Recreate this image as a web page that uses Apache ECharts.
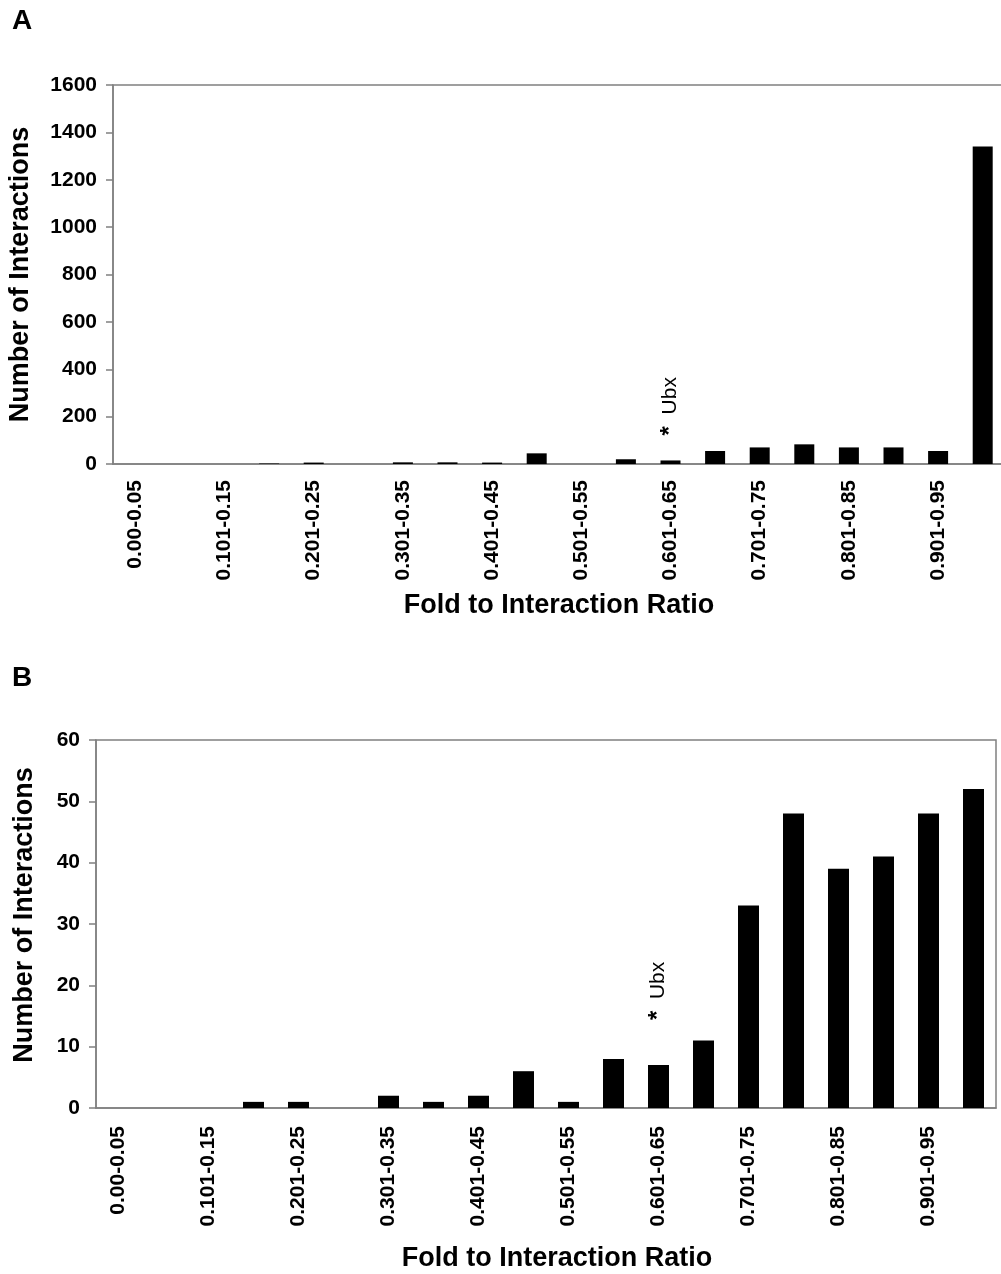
<!DOCTYPE html>
<html>
<head>
<meta charset="utf-8">
<script src="https://cdn.jsdelivr.net/npm/echarts@6/dist/echarts.min.js"></script>
<style>
  html, body { margin: 0; padding: 0; background: #fff; }
  #chart { width: 1001px; height: 1274px; }
</style>
</head>
<body>
<div id="chart"></div>
<script>
// bins of fold-to-interaction ratio (same bins in both panels)
var bins = ['0.00-0.05', '0.051-0.10', '0.101-0.15', '0.151-0.20', '0.201-0.25',
  '0.251-0.30', '0.301-0.35', '0.351-0.40', '0.401-0.45', '0.451-0.50',
  '0.501-0.55', '0.551-0.60', '0.601-0.65', '0.651-0.70', '0.701-0.75',
  '0.751-0.80', '0.801-0.85', '0.851-0.90', '0.901-0.95', '0.951-1.00'];
var countsA = [0, 0, 0, 2, 6, 0, 7, 7, 6, 45, 0, 20, 15, 55, 70, 83, 70, 70, 55, 1340];
var countsB = [0, 0, 0, 1, 1, 0, 2, 1, 2, 6, 1, 8, 7, 11, 33, 48, 39, 41, 48, 52];
var ubxIndex = 12; // bin holding Ubx
var ubxText = '{s|*}  Ubx';

var font = 'Liberation Sans, Arial, sans-serif';
var gray = '#808080';

function withUbx(vals, dist) {
  return vals.map(function (v, i) {
    if (i !== ubxIndex) return v;
    return {
      value: v,
      label: {
        show: true, position: 'top', distance: dist, formatter: ubxText,
        rotate: 90, align: 'left', verticalAlign: 'middle',
        fontFamily: font, fontSize: 21, color: '#000',
        rich: { s: { fontFamily: font, fontSize: 24, fontWeight: 'bold', color: '#000' } }
      }
    };
  });
}

function xAxisFor(idx, gap, margin, pad) {
  return {
    type: 'category', gridIndex: idx, data: bins,
    name: 'Fold to Interaction Ratio', nameLocation: 'middle', nameGap: gap,
    nameTextStyle: { fontFamily: font, fontSize: 27, fontWeight: 'bold', color: '#000',
      padding: [0, 0, 0, pad] },
    axisLine: { lineStyle: { color: gray, width: 1.5 } },
    axisTick: { interval: 0, length: 7, lineStyle: { color: gray, width: 1.5 } },
    axisLabel: { interval: 1, rotate: 90, margin: margin, fontFamily: font, fontSize: 21,
      fontWeight: 'bold', color: '#000' },
    splitLine: { show: false }
  };
}

function yAxisFor(idx, max, step, gap, pad) {
  return {
    type: 'value', gridIndex: idx, min: 0, max: max, interval: step,
    name: 'Number of Interactions', nameLocation: 'middle', nameGap: gap,
    nameTextStyle: { fontFamily: font, fontSize: 27, fontWeight: 'bold', color: '#000',
      padding: [0, 0, 0, pad] },
    axisLine: { show: true, lineStyle: { color: gray, width: 1.5 } },
    axisTick: { show: true, length: 7, lineStyle: { color: gray, width: 1.5 } },
    axisLabel: { margin: 16, fontFamily: font, fontSize: 21, fontWeight: 'bold', color: '#000',
      formatter: function (v) { return String(v); } },
    splitLine: { show: false }
  };
}

var myChart = echarts.init(document.getElementById('chart'));
var option = {
  backgroundColor: '#fff',
  animation: false,
  title: [
    { text: 'A', left: 7, top: 2, textStyle: { fontFamily: font, fontSize: 28, fontWeight: 'bold', color: '#000' } },
    { text: 'B', left: 7, top: 659, textStyle: { fontFamily: font, fontSize: 28, fontWeight: 'bold', color: '#000' } }
  ],
  grid: [
    { left: 113, top: 85, width: 892, height: 379, show: true, borderColor: gray, borderWidth: 1.5,
      containLabel: false, outerBoundsMode: 'none' },
    { left: 96, top: 740, width: 900, height: 368, show: true, borderColor: gray, borderWidth: 1.5,
      containLabel: false, outerBoundsMode: 'none' }
  ],
  xAxis: [xAxisFor(0, 128, 16, 0), xAxisFor(1, 137, 18, 22)],
  yAxis: [yAxisFor(0, 1600, 200, 79, 0), yAxisFor(1, 60, 10, 58, 18)],
  series: [
    { type: 'bar', xAxisIndex: 0, yAxisIndex: 0, barWidth: 20, data: withUbx(countsA, 25),
      itemStyle: { color: '#000' } },
    { type: 'bar', xAxisIndex: 1, yAxisIndex: 1, barWidth: 21, data: withUbx(countsB, 45),
      itemStyle: { color: '#000' } }
  ]
};
myChart.setOption(option);
window.addEventListener('resize', function () {
  myChart.resize();
});
</script>
</body>
</html>
